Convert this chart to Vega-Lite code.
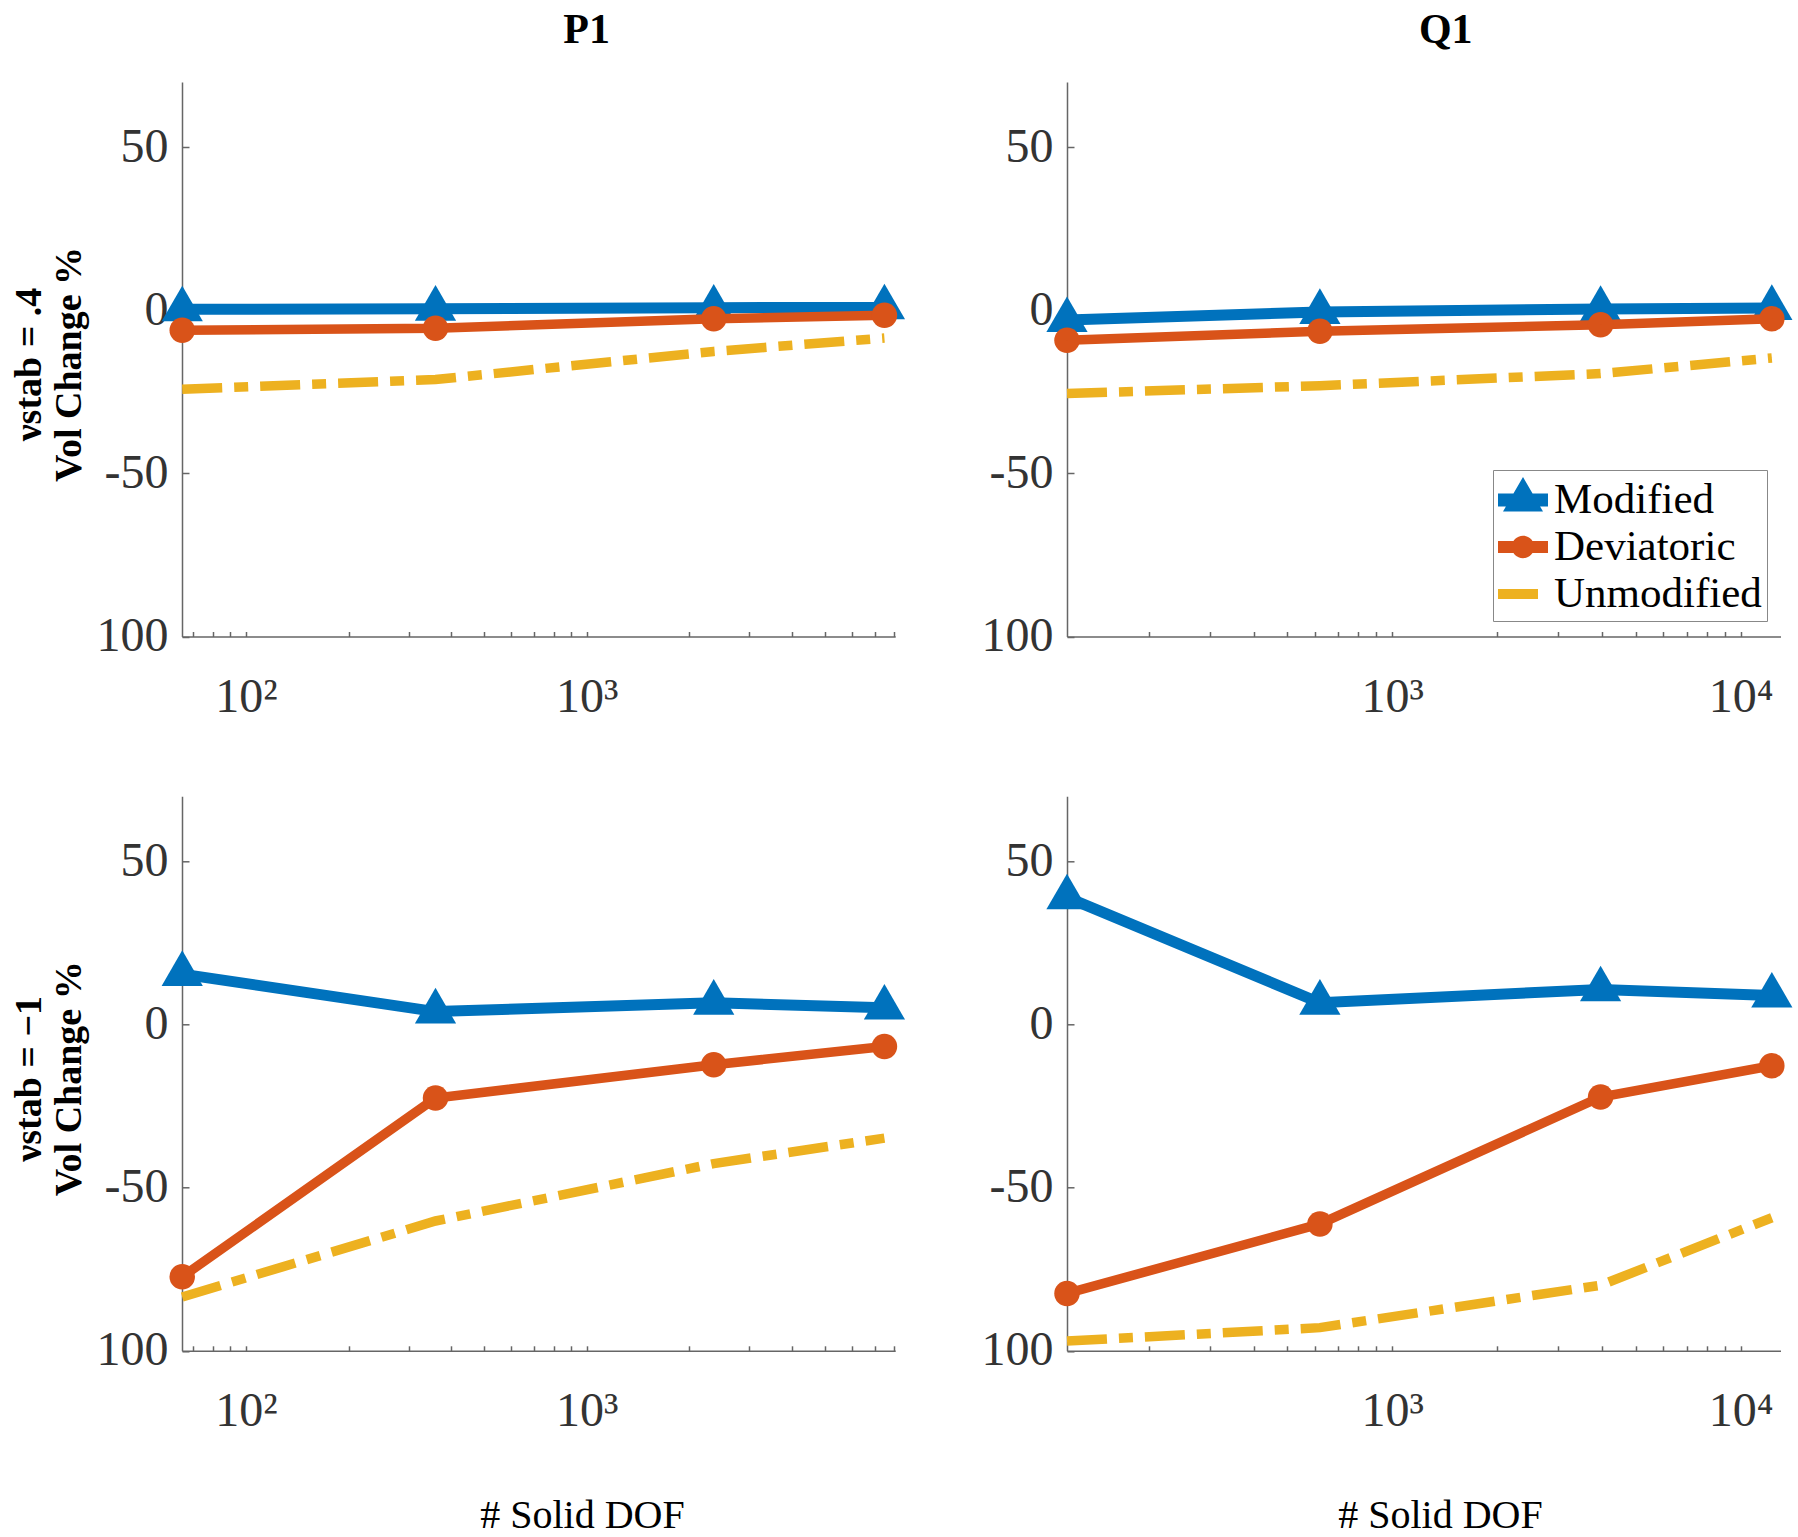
{
  "$schema": "https://vega.github.io/schema/vega-lite/v6.json",
  "background": "white",
  "padding": {"left": 10, "top": 9, "right": 5, "bottom": 2},
  "datasets": {
    "d": [
      {"elem": "P1", "row": "a", "method": "Modified", "dof": 65, "vol": 0.3},
      {"elem": "P1", "row": "a", "method": "Modified", "dof": 360, "vol": 0.5},
      {"elem": "P1", "row": "a", "method": "Modified", "dof": 2360, "vol": 0.8},
      {"elem": "P1", "row": "a", "method": "Modified", "dof": 7480, "vol": 0.9},
      {"elem": "P1", "row": "a", "method": "Deviatoric", "dof": 65, "vol": -6.1},
      {"elem": "P1", "row": "a", "method": "Deviatoric", "dof": 360, "vol": -5.5},
      {"elem": "P1", "row": "a", "method": "Deviatoric", "dof": 2360, "vol": -2.6},
      {"elem": "P1", "row": "a", "method": "Deviatoric", "dof": 7480, "vol": -1.5},
      {"elem": "P1", "row": "a", "method": "Unmodified", "dof": 65, "vol": -24.2},
      {"elem": "P1", "row": "a", "method": "Unmodified", "dof": 360, "vol": -21.2},
      {"elem": "P1", "row": "a", "method": "Unmodified", "dof": 2360, "vol": -12.6},
      {"elem": "P1", "row": "a", "method": "Unmodified", "dof": 7480, "vol": -8.5},
      {"elem": "Q1", "row": "a", "method": "Modified", "dof": 116.5, "vol": -3.0},
      {"elem": "Q1", "row": "a", "method": "Modified", "dof": 620, "vol": -0.5},
      {"elem": "Q1", "row": "a", "method": "Modified", "dof": 3965, "vol": 0.4},
      {"elem": "Q1", "row": "a", "method": "Modified", "dof": 12300, "vol": 0.7},
      {"elem": "Q1", "row": "a", "method": "Deviatoric", "dof": 116.5, "vol": -9.2},
      {"elem": "Q1", "row": "a", "method": "Deviatoric", "dof": 620, "vol": -6.4},
      {"elem": "Q1", "row": "a", "method": "Deviatoric", "dof": 3965, "vol": -4.4},
      {"elem": "Q1", "row": "a", "method": "Deviatoric", "dof": 12300, "vol": -2.6},
      {"elem": "Q1", "row": "a", "method": "Unmodified", "dof": 116.5, "vol": -25.5},
      {"elem": "Q1", "row": "a", "method": "Unmodified", "dof": 620, "vol": -23.1},
      {"elem": "Q1", "row": "a", "method": "Unmodified", "dof": 3965, "vol": -19.4},
      {"elem": "Q1", "row": "a", "method": "Unmodified", "dof": 12300, "vol": -14.6},
      {"elem": "P1", "row": "b", "method": "Modified", "dof": 65, "vol": 15.5},
      {"elem": "P1", "row": "b", "method": "Modified", "dof": 360, "vol": 4.0},
      {"elem": "P1", "row": "b", "method": "Modified", "dof": 2360, "vol": 6.7},
      {"elem": "P1", "row": "b", "method": "Modified", "dof": 7480, "vol": 5.2},
      {"elem": "P1", "row": "b", "method": "Deviatoric", "dof": 65, "vol": -77.3},
      {"elem": "P1", "row": "b", "method": "Deviatoric", "dof": 360, "vol": -22.5},
      {"elem": "P1", "row": "b", "method": "Deviatoric", "dof": 2360, "vol": -12.3},
      {"elem": "P1", "row": "b", "method": "Deviatoric", "dof": 7480, "vol": -6.7},
      {"elem": "P1", "row": "b", "method": "Unmodified", "dof": 65, "vol": -83.5},
      {"elem": "P1", "row": "b", "method": "Unmodified", "dof": 360, "vol": -60.2},
      {"elem": "P1", "row": "b", "method": "Unmodified", "dof": 2360, "vol": -42.6},
      {"elem": "P1", "row": "b", "method": "Unmodified", "dof": 7480, "vol": -34.8},
      {"elem": "Q1", "row": "b", "method": "Modified", "dof": 116.5, "vol": 39.0},
      {"elem": "Q1", "row": "b", "method": "Modified", "dof": 620, "vol": 6.7},
      {"elem": "Q1", "row": "b", "method": "Modified", "dof": 3965, "vol": 10.8},
      {"elem": "Q1", "row": "b", "method": "Modified", "dof": 12300, "vol": 8.9},
      {"elem": "Q1", "row": "b", "method": "Deviatoric", "dof": 116.5, "vol": -82.4},
      {"elem": "Q1", "row": "b", "method": "Deviatoric", "dof": 620, "vol": -61.1},
      {"elem": "Q1", "row": "b", "method": "Deviatoric", "dof": 3965, "vol": -22.2},
      {"elem": "Q1", "row": "b", "method": "Deviatoric", "dof": 12300, "vol": -12.6},
      {"elem": "Q1", "row": "b", "method": "Unmodified", "dof": 116.5, "vol": -97.0},
      {"elem": "Q1", "row": "b", "method": "Unmodified", "dof": 620, "vol": -92.9},
      {"elem": "Q1", "row": "b", "method": "Unmodified", "dof": 3965, "vol": -79.9},
      {"elem": "Q1", "row": "b", "method": "Unmodified", "dof": 12300, "vol": -59.2}
    ]
  },
  "columns": 2,
  "spacing": {"row": 159.3, "column": 171},
  "bounds": "flush",
  "resolve": {"scale": {"color": "independent", "shape": "independent"}, "legend": {"color": "independent", "shape": "independent"}},
  "concat": [
    {
      "width": 713.2, "height": 554.5,
      "data": {"name": "d"},
      "transform": [{"filter": "datum.elem == 'P1' && datum.row == 'a'"}],
      "title": {"text": "P1", "font": "Liberation Serif", "fontSize": 42, "fontWeight": "bold", "color": "black", "baseline": "alphabetic", "offset": -3, "dx": 48, "frame": "group", "anchor": "middle"},
      "encoding": {
        "x": {"field": "dof", "type": "quantitative", "scale": {"type": "log", "domain": [64.9, 8045], "nice": false},
          "axis": {"values": [70, 80, 90, 100, 200, 300, 400, 500, 600, 700, 800, 900, 1000, 2000, 3000, 4000, 5000, 6000, 7000, 8000],
            "labelExpr": "datum.value == 100 ? '10²' : datum.value == 1000 ? '10³' : datum.value == 10000 ? '10⁴' : ''",
            "tickSize": -5, "labelPadding": 80, "labelBaseline": "alphabetic", "labelFlush": false, "labelOverlap": false, "title": null}},
        "y": {"field": "vol", "type": "quantitative", "scale": {"domain": [-100, 70], "nice": false, "zero": false},
          "axis": {"values": [-100, -50, 0, 50], "labelExpr": "datum.value == -100 ? '100' : toString(datum.value)",
            "tickSize": -7, "labelPadding": 21,
            "title": ["νstab = .4", "Vol Change %"], "titleFontSize": 38, "titleFontWeight": "bold", "titleAngle": 270, "titleBaseline": "alphabetic", "titleAlign": "center", "titleX": -142, "titleY": 282, "titleLineHeight": 40}}
      },
      "layer": [
        {"transform": [{"filter": "datum.method == 'Modified'"}], "mark": {"type": "line", "color": "#0072BD", "strokeWidth": 11}},
        {"transform": [{"filter": "datum.method == 'Modified'"}], "mark": {"type": "point", "color": "#0072BD", "shape": "M0,-1.15L1,0.58H-1Z", "filled": true, "opacity": 1, "size": 1700}},
        {"transform": [{"filter": "datum.method == 'Deviatoric'"}], "mark": {"type": "line", "color": "#D95319", "strokeWidth": 9.5}},
        {"transform": [{"filter": "datum.method == 'Deviatoric'"}], "mark": {"type": "point", "color": "#D95319", "shape": "circle", "filled": true, "opacity": 1, "size": 650}},
        {"transform": [{"filter": "datum.method == 'Unmodified'"}], "mark": {"type": "line", "color": "#EDB120", "strokeWidth": 9.5, "strokeDash": [40, 12, 14, 12]}}
      ]
    },
    {
      "width": 713.5, "height": 554.5,
      "data": {"name": "d"},
      "transform": [{"filter": "datum.elem == 'Q1' && datum.row == 'a'"}],
      "title": {"text": "Q1", "font": "Liberation Serif", "fontSize": 42, "fontWeight": "bold", "color": "black", "baseline": "alphabetic", "offset": -3, "dx": 22, "frame": "group", "anchor": "middle"},
      "encoding": {
        "x": {"field": "dof", "type": "quantitative", "scale": {"type": "log", "domain": [116.5, 13025], "nice": false},
          "axis": {"values": [200, 300, 400, 500, 600, 700, 800, 900, 1000, 2000, 3000, 4000, 5000, 6000, 7000, 8000, 9000, 10000],
            "labelExpr": "datum.value == 100 ? '10²' : datum.value == 1000 ? '10³' : datum.value == 10000 ? '10⁴' : ''",
            "tickSize": -5, "labelPadding": 80, "labelBaseline": "alphabetic", "labelFlush": false, "labelOverlap": false, "title": null}},
        "y": {"field": "vol", "type": "quantitative", "scale": {"domain": [-100, 70], "nice": false, "zero": false},
          "axis": {"values": [-100, -50, 0, 50], "labelExpr": "datum.value == -100 ? '100' : toString(datum.value)",
            "tickSize": -7, "labelPadding": 21, "title": null}}
      },
      "layer": [
        {"transform": [{"filter": "datum.method == 'Modified'"}], "mark": {"type": "line", "color": "#0072BD", "strokeWidth": 11}},
        {"transform": [{"filter": "datum.method == 'Modified'"}], "mark": {"type": "point", "color": "#0072BD", "shape": "M0,-1.15L1,0.58H-1Z", "filled": true, "opacity": 1, "size": 1700}},
        {"transform": [{"filter": "datum.method == 'Deviatoric'"}], "mark": {"type": "line", "color": "#D95319", "strokeWidth": 9.5}},
        {"transform": [{"filter": "datum.method == 'Deviatoric'"}], "mark": {"type": "point", "color": "#D95319", "shape": "circle", "filled": true, "opacity": 1, "size": 650}},
        {"transform": [{"filter": "datum.method == 'Unmodified'"}], "mark": {"type": "line", "color": "#EDB120", "strokeWidth": 9.5, "strokeDash": [40, 12, 14, 12]}},
        {"mark": {"type": "point", "filled": true, "size": 1},
          "encoding": {
            "color": {"field": "method", "type": "nominal", "scale": {"domain": ["Modified", "Deviatoric", "Unmodified"], "range": ["#0072BD", "#D95319", "#EDB120"]},
              "legend": {"orient": "none", "legendX": 426, "legendY": 388, "title": null, "labelFont": "Liberation Serif", "labelFontSize": 43, "labelColor": "black", "labelOffset": 6, "labelLimit": 500, "symbolSize": 2500, "symbolOpacity": 1, "symbolStrokeWidth": 0, "padding": 5, "rowPadding": 0, "strokeColor": "#888", "fillColor": "white"}},
            "shape": {"field": "method", "type": "nominal", "scale": {"domain": ["Modified", "Deviatoric", "Unmodified"], "range": ["M-1,-0.26H1V0.26H-1Z M0,-0.92L0.8,0.46H-0.8Z", "M-1,-0.24H1V0.24H-1Z M-0.45,0A0.45,0.45 0 1,1 0.45,0A0.45,0.45 0 1,1 -0.45,0Z", "M-1,-0.2H0.6V0.2H-1Z"]},
              "legend": {"orient": "none", "legendX": 426, "legendY": 388, "title": null, "labelFont": "Liberation Serif", "labelFontSize": 43, "labelColor": "black", "labelOffset": 6, "labelLimit": 500, "symbolSize": 2500, "symbolOpacity": 1, "symbolStrokeWidth": 0, "padding": 5, "rowPadding": 0, "strokeColor": "#888", "fillColor": "white"}}
          }}
      ]
    },
    {
      "width": 713.2, "height": 554.5,
      "data": {"name": "d"},
      "transform": [{"filter": "datum.elem == 'P1' && datum.row == 'b'"}],
      "encoding": {
        "x": {"field": "dof", "type": "quantitative", "scale": {"type": "log", "domain": [64.9, 8045], "nice": false},
          "axis": {"values": [70, 80, 90, 100, 200, 300, 400, 500, 600, 700, 800, 900, 1000, 2000, 3000, 4000, 5000, 6000, 7000, 8000],
            "labelExpr": "datum.value == 100 ? '10²' : datum.value == 1000 ? '10³' : datum.value == 10000 ? '10⁴' : ''",
            "tickSize": -5, "labelPadding": 80, "labelBaseline": "alphabetic", "labelFlush": false, "labelOverlap": false,
            "title": "# Solid DOF", "titleFontSize": 40, "titleFontWeight": "normal", "titleBaseline": "alphabetic", "titleX": 400, "titleY": 177}},
        "y": {"field": "vol", "type": "quantitative", "scale": {"domain": [-100, 70], "nice": false, "zero": false},
          "axis": {"values": [-100, -50, 0, 50], "labelExpr": "datum.value == -100 ? '100' : toString(datum.value)",
            "tickSize": -7, "labelPadding": 21,
            "title": ["νstab = −1", "Vol Change %"], "titleFontSize": 38, "titleFontWeight": "bold", "titleAngle": 270, "titleBaseline": "alphabetic", "titleAlign": "center", "titleX": -142, "titleY": 282, "titleLineHeight": 40}}
      },
      "layer": [
        {"transform": [{"filter": "datum.method == 'Modified'"}], "mark": {"type": "line", "color": "#0072BD", "strokeWidth": 11}},
        {"transform": [{"filter": "datum.method == 'Modified'"}], "mark": {"type": "point", "color": "#0072BD", "shape": "M0,-1.15L1,0.58H-1Z", "filled": true, "opacity": 1, "size": 1700}},
        {"transform": [{"filter": "datum.method == 'Deviatoric'"}], "mark": {"type": "line", "color": "#D95319", "strokeWidth": 9.5}},
        {"transform": [{"filter": "datum.method == 'Deviatoric'"}], "mark": {"type": "point", "color": "#D95319", "shape": "circle", "filled": true, "opacity": 1, "size": 650}},
        {"transform": [{"filter": "datum.method == 'Unmodified'"}], "mark": {"type": "line", "color": "#EDB120", "strokeWidth": 9.5, "strokeDash": [40, 12, 14, 12]}}
      ]
    },
    {
      "width": 713.5, "height": 554.5,
      "data": {"name": "d"},
      "transform": [{"filter": "datum.elem == 'Q1' && datum.row == 'b'"}],
      "encoding": {
        "x": {"field": "dof", "type": "quantitative", "scale": {"type": "log", "domain": [116.5, 13025], "nice": false},
          "axis": {"values": [200, 300, 400, 500, 600, 700, 800, 900, 1000, 2000, 3000, 4000, 5000, 6000, 7000, 8000, 9000, 10000],
            "labelExpr": "datum.value == 100 ? '10²' : datum.value == 1000 ? '10³' : datum.value == 10000 ? '10⁴' : ''",
            "tickSize": -5, "labelPadding": 80, "labelBaseline": "alphabetic", "labelFlush": false, "labelOverlap": false,
            "title": "# Solid DOF", "titleFontSize": 40, "titleFontWeight": "normal", "titleBaseline": "alphabetic", "titleX": 373, "titleY": 177}},
        "y": {"field": "vol", "type": "quantitative", "scale": {"domain": [-100, 70], "nice": false, "zero": false},
          "axis": {"values": [-100, -50, 0, 50], "labelExpr": "datum.value == -100 ? '100' : toString(datum.value)",
            "tickSize": -7, "labelPadding": 21, "title": null}}
      },
      "layer": [
        {"transform": [{"filter": "datum.method == 'Modified'"}], "mark": {"type": "line", "color": "#0072BD", "strokeWidth": 11}},
        {"transform": [{"filter": "datum.method == 'Modified'"}], "mark": {"type": "point", "color": "#0072BD", "shape": "M0,-1.15L1,0.58H-1Z", "filled": true, "opacity": 1, "size": 1700}},
        {"transform": [{"filter": "datum.method == 'Deviatoric'"}], "mark": {"type": "line", "color": "#D95319", "strokeWidth": 9.5}},
        {"transform": [{"filter": "datum.method == 'Deviatoric'"}], "mark": {"type": "point", "color": "#D95319", "shape": "circle", "filled": true, "opacity": 1, "size": 650}},
        {"transform": [{"filter": "datum.method == 'Unmodified'"}], "mark": {"type": "line", "color": "#EDB120", "strokeWidth": 9.5, "strokeDash": [40, 12, 14, 12]}}
      ]
    }
  ],
  "config": {
    "view": {"stroke": null},
    "axis": {"labelFont": "Liberation Serif", "labelFontSize": 48, "labelColor": "#333", "domainColor": "#666", "domainWidth": 1.5, "tickColor": "#666", "tickWidth": 1.5, "grid": false, "titleFont": "Liberation Serif", "titleColor": "black"}
  }
}
